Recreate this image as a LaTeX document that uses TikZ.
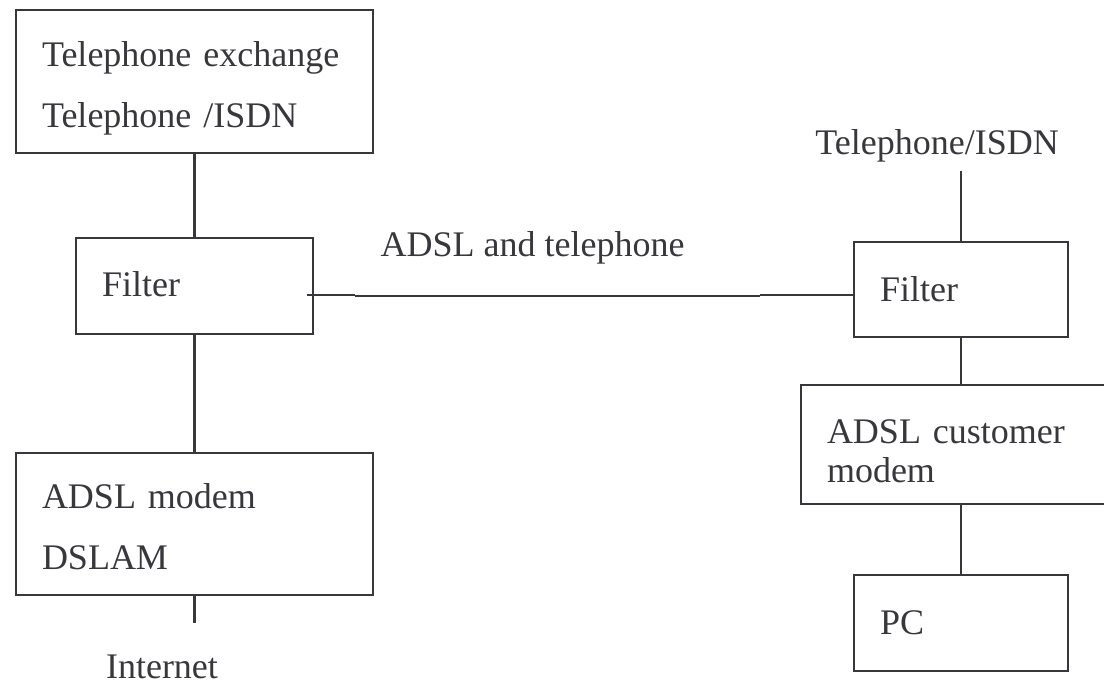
\documentclass[tikz,border=0pt]{standalone}
\usepackage{fontspec}
\setmainfont{Liberation Serif}
\definecolor{ink}{RGB}{55,55,60}
% invisible struts that fix the height of a first line and the depth of a last line
\newcommand{\topstrut}[1]{\rule{0pt}{#1}}
\newcommand{\botstrut}{\rule[-10pt]{0pt}{10pt}}
\begin{document}
\begin{tikzpicture}[x=1pt,y=-1pt,
  box/.style={draw=ink, line width=2.6pt, inner xsep=26pt, inner ysep=0pt,
    align=left, text=ink, font=\fontsize{36}{39}\selectfont},
  wide/.style={font=\fontsize{36}{61}\selectfont},
  wire/.style={draw=ink, line width=2.6pt},
  thinwire/.style={draw=ink, line width=1.3pt},
  lbl/.style={text=ink, font=\fontsize{36}{39}\selectfont, inner sep=0pt, anchor=base}]
\useasboundingbox (0,0) rectangle (1104,684);

% exchange side
\node[box, wide, minimum width=357pt, minimum height=143pt, text width=305pt]
  (exch) at (194.5,81.5) {\topstrut{42pt}Telephone exchange\\Telephone /ISDN\botstrut};
\node[box, minimum width=237pt, minimum height=96pt, text width=185pt]
  (filL) at (194.5,286) {\topstrut{32pt}Filter\botstrut};
\node[box, wide, minimum width=357pt, minimum height=142pt, text width=305pt]
  (dslam) at (194.5,524) {\topstrut{41pt}ADSL modem\\DSLAM\botstrut};
\coordinate (inet) at (194.5,623);
\node[lbl] (inetlbl) at (162,678) {Internet};

\draw[wire] (exch.south) -- (filL.north);
\draw[wire] (filL.south) -- (dslam.north);
\draw[wire] (dslam.south) -- (inet);

% customer side
\node[lbl] (telR) at (937,155) {Telephone/ISDN};
\coordinate (telRend) at (961,171);
\node[box, minimum width=214pt, minimum height=95pt, text width=162pt]
  (filR) at (961,289.5) {\topstrut{35pt}Filter\botstrut};
\node[box, minimum width=320pt, minimum height=119pt, text width=268pt]
  (cmod) at (961,444.5) {\topstrut{48pt}ADSL customer\\modem\botstrut};
\node[box, minimum width=214pt, minimum height=96pt, text width=162pt]
  (pc) at (961,623) {\topstrut{32pt}PC\botstrut};

\draw[wire] (telRend) -- (filR.north);
\draw[wire] (filR.south) -- (cmod.north);
\draw[wire] (cmod.south) -- (pc.north);

% line between the two filters
\coordinate (lineA) at (307,295);
\coordinate (lineB) at (355,295);
\coordinate (lineC) at (355,296);
\coordinate (lineD) at (760,296);
\coordinate (lineE) at (760,295);
\draw[wire] (lineA) -- (lineB);
\draw[thinwire] (lineC) -- (lineD);
\draw[wire] (lineE) -- (lineE -| filR.west);
\node[lbl] (linelbl) at (532.5,257) {ADSL and telephone};
\end{tikzpicture}
\end{document}
